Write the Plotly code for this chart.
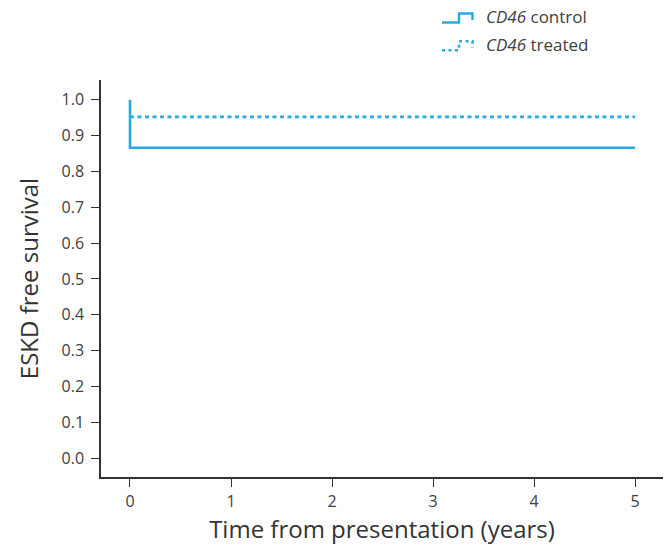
import plotly.graph_objects as go

# Kaplan-Meier style step data (years, survival fraction)
control_time = [0, 0, 5]
control_surv = [1.0, 0.866, 0.866]
treated_time = [0, 5]
treated_surv = [0.952, 0.952]

x_ticks = [0, 1, 2, 3, 4, 5]
y_ticks = [0.0, 0.1, 0.2, 0.3, 0.4, 0.5, 0.6, 0.7, 0.8, 0.9, 1.0]

blue = "#29A9E1"
axis_col = "#333333"
font = "Open Sans"

fig = go.Figure()
fig.add_trace(go.Scatter(
    x=treated_time, y=treated_surv, mode="lines", line_shape="hv",
    line=dict(color=blue, width=2.8, dash="4px,3.5px"),
    name="CD46 treated", showlegend=False, hoverinfo="skip"))
fig.add_trace(go.Scatter(
    x=control_time, y=control_surv, mode="lines", line_shape="hv",
    line=dict(color=blue, width=2.6),
    name="CD46 control", showlegend=False, hoverinfo="skip"))

W, H = 672, 548
ml, mr, mt, mb = 101, 9, 80, 68
pw, ph = W - ml - mr, H - mt - mb


def px(x, y):
    # pixel position -> paper coordinates
    return (x - ml) / pw, 1 - (y - mt) / ph


def step_path(pts):
    parts = []
    for i, (x, y) in enumerate(pts):
        u, v = px(x, y)
        parts.append(("M" if i == 0 else "L") + f"{u:.5f},{v:.5f}")
    return " ".join(parts)


# Legend glyphs: small step symbols
fig.add_shape(type="path", xref="paper", yref="paper",
              path=step_path([(442, 22), (459, 22), (459, 13), (472.5, 13), (472.5, 19.5)]),
              line=dict(color=blue, width=2.4))
fig.add_shape(type="path", xref="paper", yref="paper",
              path=step_path([(442, 50), (459, 50), (459, 41), (472.5, 41), (472.5, 47.5)]),
              line=dict(color=blue, width=2.6, dash="3px,3.5px"))

for label, yy in [("<i>CD46</i> control", 16), ("<i>CD46</i> treated", 44)]:
    u, v = px(484, yy)
    fig.add_annotation(x=u, y=v, xref="paper", yref="paper", text=label,
                       showarrow=False, xanchor="left", yanchor="middle",
                       font=dict(family=font, size=17, color="#404040"))

fig.update_layout(
    width=W, height=H,
    margin=dict(l=ml, r=mr, t=mt, b=mb, pad=0),
    paper_bgcolor="white", plot_bgcolor="white",
    font=dict(family=font, color="#404040"),
    xaxis=dict(range=[-0.287, 5.277], tickvals=x_ticks, ticks="outside",
               ticklen=8, tickwidth=1.3, tickcolor=axis_col,
               showline=True, linecolor=axis_col, linewidth=1.5,
               showgrid=False, zeroline=False, ticklabelstandoff=1,
               tickfont=dict(size=16, color="#404040"),
               title=dict(text="Time from presentation (years)",
                          font=dict(size=24, color="#333333"), standoff=10)),
    yaxis=dict(range=[-0.0526, 1.055], tickvals=y_ticks, tickformat=".1f",
               ticks="outside", ticklen=8, tickwidth=1.3, tickcolor=axis_col,
               showline=True, linecolor=axis_col, linewidth=1.5,
               showgrid=False, zeroline=False, ticklabelstandoff=4,
               tickfont=dict(size=16, color="#404040"),
               title=dict(text="ESKD free survival",
                          font=dict(size=24, color="#333333"), standoff=16)),
)

fig.write_html("out.html")
